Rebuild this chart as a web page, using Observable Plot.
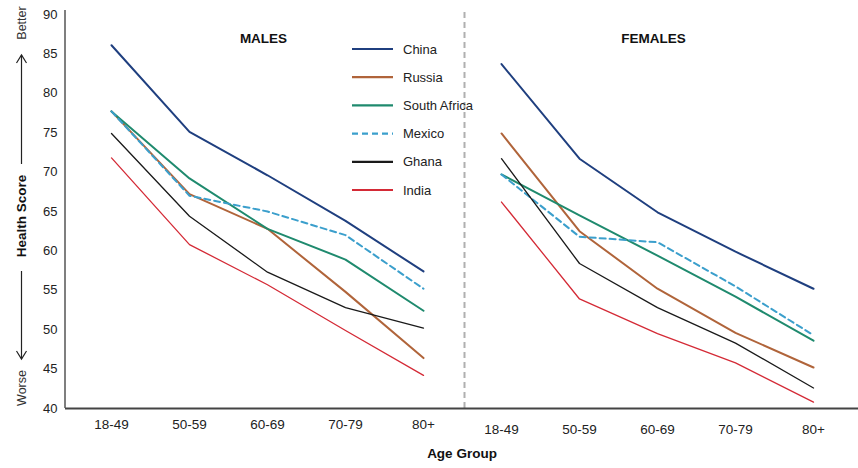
<!DOCTYPE html>
<html>
<head>
<meta charset="utf-8">
<script src="https://cdn.jsdelivr.net/npm/d3@7"></script>
<script src="https://cdn.jsdelivr.net/npm/@observablehq/plot@0.6"></script>
<style>
  html, body { margin: 0; padding: 0; background: #fff; }
  #chart { width: 858px; height: 468px; }
  svg { font-family: "Liberation Sans", Arial, sans-serif; }
</style>
</head>
<body>
<div id="chart"></div>
<script>
const ages = ["18-49", "50-59", "60-69", "70-79", "80+"];
const sexes = ["M", "F"];
const sexTitles = ["MALES", "FEMALES"];
const countries = ["China", "Russia", "South Africa", "Mexico", "Ghana", "India"];
const colors = ["#1f3f7f", "#b0643a", "#1f8a6e", "#3b9fcc", "#1a1a1a", "#d42a36"];
const widths = [2, 2, 2, 2, 1.3, 1.3];
const dashes = ["none", "none", "none", "6,4", "none", "none"];

// Males
const maleChina  = [86.1, 75.1, 69.6, 63.8, 57.4];
const maleRussia = [77.7, 67.2, 62.8, 54.8, 46.4];
const maleSA     = [77.7, 69.2, 62.8, 58.9, 52.4];
const maleMexico = [77.7, 67.0, 65.0, 62.0, 55.2];
const maleGhana  = [74.9, 64.4, 57.3, 52.8, 50.2];
const maleIndia  = [71.8, 60.8, 55.7, 49.9, 44.2];
// Females
const femaleChina  = [83.7, 71.7, 64.9, 59.9, 55.2];
const femaleRussia = [74.9, 62.5, 55.2, 49.6, 45.2];
const femaleSA     = [69.7, 64.5, 59.4, 54.2, 48.6];
const femaleMexico = [69.7, 61.8, 61.1, 55.5, 49.3];
const femaleGhana  = [71.7, 58.4, 52.8, 48.3, 42.6];
const femaleIndia  = [66.2, 53.9, 49.5, 45.8, 40.8];

const yTicks = [40, 45, 50, 55, 60, 65, 70, 75, 80, 85, 90];

const series = {
  M: [maleChina, maleRussia, maleSA, maleMexico, maleGhana, maleIndia],
  F: [femaleChina, femaleRussia, femaleSA, femaleMexico, femaleGhana, femaleIndia]
};

const rows = [];
for (const s of sexes) {
  countries.forEach((c, ci) => {
    series[s][ci].forEach((v, ai) => {
      rows.push({sex: s, country: c, key: s + " " + ages[ai], value: v});
    });
  });
}
const xDomain = sexes.flatMap(s => ages.map(a => s + " " + a));

const lineMarks = countries.map((c, ci) =>
  Plot.line(rows.filter(d => d.country === c), {
    x: "key", y: "value", z: "sex",
    stroke: colors[ci], strokeWidth: widths[ci],
    strokeDasharray: dashes[ci] === "none" ? undefined : dashes[ci]
  })
);

const plot = Plot.plot({
  width: 858,
  height: 468,
  marginLeft: 65,
  marginRight: 0,
  marginTop: 14,
  marginBottom: 60,
  style: {fontFamily: "Liberation Sans, Arial, sans-serif", fontSize: "13px", color: "#222", background: "#fff"},
  x: {type: "point", domain: xDomain, padding: 0.56},
  y: {domain: [40, 90]},
  marks: [
    Plot.ruleX(["M 80+"], {dx: 41, stroke: "#b0b0b0", strokeWidth: 2, strokeDasharray: "6,4", y1: 40, y2: 90.5}),
    Plot.axisY({ticks: yTicks, tickSize: 0, tickPadding: 8, label: null, fontSize: 13}),
    Plot.axisX({ticks: xDomain.filter(k => k[0] === "M"), tickSize: 0, tickPadding: 11, label: null, tickFormat: d => d.slice(2), fontSize: 13.5}),
    Plot.axisX({ticks: xDomain.filter(k => k[0] === "F"), tickSize: 0, tickPadding: 16, label: null, tickFormat: d => d.slice(2), fontSize: 13.5}),
    ...lineMarks,
    Plot.ruleY([40], {stroke: "#444", strokeWidth: 2}),
    Plot.text(sexTitles, {x: ["M 60-69", "F 60-69"], frameAnchor: "top", dy: 19, dx: -4, text: d => d, fontWeight: "bold", fontSize: 13.5, fill: "#111"}),
    Plot.text(["Age Group"], {frameAnchor: "bottom", dy: 49, text: d => d, fontWeight: "bold", fontSize: 13.5, fill: "#111"})
  ]
});

const svg = d3.select(plot);
const xs = plot.scale("x");
const ys = plot.scale("y");
const x0 = xs.range[0];
// left axis line
svg.append("line")
  .attr("x1", x0).attr("x2", x0)
  .attr("y1", ys.apply(90.5)).attr("y2", ys.apply(40))
  .attr("stroke", "#555").attr("stroke-width", 1.5);

// y-axis annotation
const g = svg.append("g").attr("fill", "#222").attr("stroke", "none");
function vText(txt, cx, cy, weight, size) {
  g.append("text")
    .attr("transform", `translate(${cx},${cy}) rotate(-90)`)
    .attr("text-anchor", "middle").attr("dominant-baseline", "central")
    .attr("font-weight", weight).attr("font-size", size)
    .attr("fill", weight === "bold" ? "#111" : "#333")
    .text(txt);
}
vText("Better", 22, 23, "normal", 12.5);
vText("Health Score", 21, 216, "bold", 13.5);
vText("Worse", 22, 388, "normal", 12.5);
function arrow(xc, yFrom, yTo) {
  const dir = yTo < yFrom ? 1 : -1;
  svg.append("line").attr("x1", xc).attr("x2", xc).attr("y1", yFrom).attr("y2", yTo)
    .attr("stroke", "#222").attr("stroke-width", 1.2);
  svg.append("path")
    .attr("d", `M${xc - 5},${yTo + dir * 8}L${xc},${yTo}L${xc + 5},${yTo + dir * 8}`)
    .attr("fill", "none").attr("stroke", "#222").attr("stroke-width", 1.2);
}
arrow(21.5, 164, 55);
arrow(21.5, 271, 359);

// legend
const leg = svg.append("g");
countries.forEach((c, i) => {
  const yy = 49 + i * 28.2;
  leg.append("line").attr("x1", 352).attr("x2", 393).attr("y1", yy).attr("y2", yy)
    .attr("stroke", colors[i]).attr("stroke-width", 2.2)
    .attr("stroke-dasharray", dashes[i] === "none" ? null : dashes[i]);
  leg.append("text").attr("x", 403).attr("y", yy).attr("dominant-baseline", "central")
    .attr("text-anchor", "start")
    .attr("font-size", 13).attr("fill", "#222").text(c);
});

document.getElementById("chart").appendChild(plot);
</script>
</body>
</html>
